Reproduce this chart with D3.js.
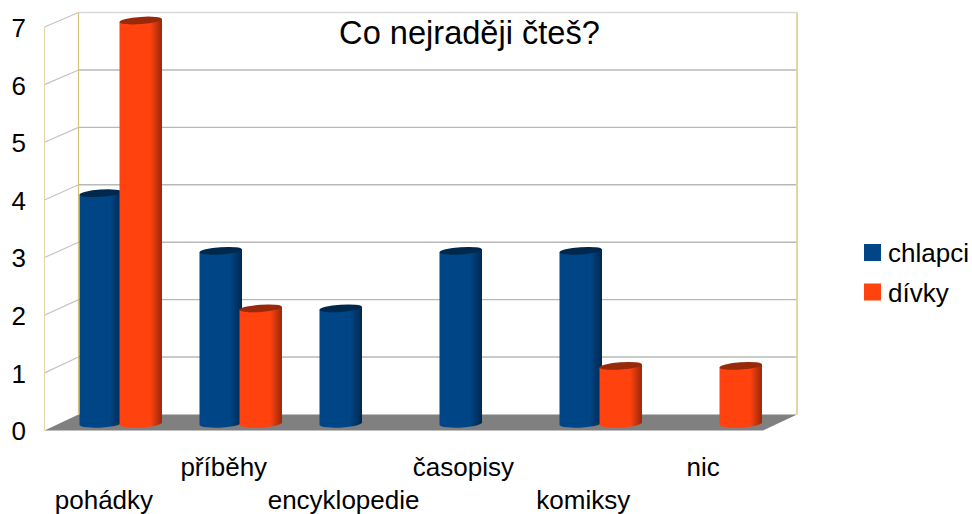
<!DOCTYPE html>
<html>
<head>
<meta charset="utf-8">
<script src="https://cdn.jsdelivr.net/npm/d3@7"></script>
<style>
  html, body { margin: 0; padding: 0; background: #fff; }
  text { font-family: "Liberation Sans", Arial, sans-serif; fill: #000; }
</style>
</head>
<body>
<div id="mydiv"></div>
<script>
const width = 972,
  height = 514;

// Data
const categories = ["pohádky", "příběhy", "encyklopedie", "časopisy", "komiksy", "nic"];
const seriesNames = ["chlapci", "dívky"];
const chlapci = [4, 3, 2, 3, 3, 0];
const divky = [7, 2, 0, 0, 1, 1];
const yTicks = [0, 1, 2, 3, 4, 5, 6, 7];
const seriesValues = [chlapci, divky];
const colors = ["#004586", "#ff420e"];
const darkColors = ["#00274c", "#98290a"];

const svg = d3.select("#mydiv").append("svg")
  .attr("width", width)
  .attr("height", height)
  .style("display", "block");

// Scales: back wall, front edge and bars all sit at a different depth
const yBack = d3.scaleLinear().domain([0, 7]).range([414.5, 12.5]);
const yFront = d3.scaleLinear().domain([0, 7]).range([430.5, 27]);
const yBar = d3.scaleLinear().domain([0, 7]).range([423.5, 20.5]);
const xBar = d3.scaleBand().domain(categories).range([79.5, 799.5]);
const xInner = d3.scaleBand().domain(seriesNames).range([0, 80]);
const xFront = d3.scaleBand().domain(categories).range([44, 763]);

const backLeft = 78.5,
  backRight = 797,
  frontLeft = 44.5,
  frontRight = 763;

// cylinders are a bit wider than their slot, so the second one overlaps the first
const barWidth = xInner.bandwidth() + 2.5;

// Gradients for the cylinders
const defs = svg.append("defs");
seriesNames.forEach((name, i) => {
  const grad = defs.append("linearGradient").attr("id", "grad" + i);
  grad.append("stop").attr("offset", "0%").attr("stop-color", colors[i]);
  grad.append("stop").attr("offset", "72%").attr("stop-color", colors[i]);
  grad.append("stop").attr("offset", "100%").attr("stop-color", darkColors[i]);
});

// Floor
svg.append("polygon")
  .attr("points", [
    [frontLeft, yFront(0)],
    [backLeft, yBack(0)],
    [backRight, yBack(0)],
    [frontRight, yFront(0)]
  ].join(" "))
  .attr("fill", "#808080");

// Grid on the back wall and side wall
svg.append("g").selectAll("line.back").data(yTicks.slice(1)).enter()
  .append("line")
  .attr("class", "back")
  .attr("x1", backLeft).attr("x2", backRight)
  .attr("y1", d => yBack(d)).attr("y2", d => yBack(d))
  .attr("stroke", d => d == 7 ? "#d8d8d8" : "#b8b8b8")
  .attr("stroke-width", 1.4);

svg.append("g").selectAll("line.side").data(yTicks.slice(1)).enter()
  .append("line")
  .attr("class", "side")
  .attr("x1", frontLeft).attr("x2", backLeft)
  .attr("y1", d => yFront(d)).attr("y2", d => yBack(d))
  .attr("stroke", "#c4c4c4")
  .attr("stroke-width", 1.2);

// Wall edges
svg.append("line")
  .attr("x1", backLeft).attr("x2", backLeft)
  .attr("y1", yBack(7)).attr("y2", yBack(0))
  .attr("stroke", "#d6c27a").attr("stroke-width", 1.2);
svg.append("line")
  .attr("x1", backRight).attr("x2", backRight)
  .attr("y1", yBack(7)).attr("y2", yBack(0))
  .attr("stroke", "#e0d29a").attr("stroke-width", 1.8);
svg.append("line")
  .attr("x1", frontLeft).attr("x2", frontLeft)
  .attr("y1", yFront(7)).attr("y2", yFront(0))
  .attr("stroke", "#e6d8a8").attr("stroke-width", 1.2);

// Flat list of bars, series by series inside each category
const bars = [];
categories.forEach((cat, c) => {
  seriesNames.forEach((name, s) => {
    if (seriesValues[s][c] > 0) {
      bars.push({ cat: cat, name: name, s: s, value: seriesValues[s][c] });
    }
  });
});

// Cylinder body: straight sides, tilted ellipse at top and bottom
function cylinderBody(d) {
  const x0 = xBar(d.cat) + xInner(d.name);
  const x1 = x0 + barWidth;
  const top = yBar(d.value);
  const bottom = yBar(0);
  const rx = (x1 - x0) / 2;
  return `M${x0},${top + 1.5} L${x0},${bottom + 1.5}
    A${rx},4 -3 0 0 ${x1},${bottom - 1.5} L${x1},${top - 1.5} Z`;
}

const barG = svg.append("g").selectAll("g").data(bars).enter().append("g");

barG.append("path")
  .attr("d", cylinderBody)
  .attr("fill", d => "url(#grad" + d.s + ")");

barG.append("ellipse")
  .attr("cx", 0).attr("cy", 0)
  .attr("rx", barWidth / 2)
  .attr("ry", 3.6)
  .attr("transform", d => {
    const cx = xBar(d.cat) + xInner(d.name) + barWidth / 2;
    return `translate(${cx},${yBar(d.value)}) rotate(-4)`;
  })
  .attr("fill", d => darkColors[d.s]);

// Y axis labels
const yAxis = d3.axisLeft(yFront).tickValues(yTicks).tickFormat(d3.format("d")).tickSize(0).tickPadding(0);
const yG = svg.append("g")
  .attr("transform", "translate(26,0)")
  .call(yAxis);
yG.select(".domain").remove();
yG.selectAll("text")
  .style("font-family", '"Liberation Sans", Arial, sans-serif')
  .style("font-size", "26px")
  .attr("dy", "0.36em");

// Category labels, staggered in two rows
svg.append("g").selectAll("text").data(categories).enter()
  .append("text")
  .attr("x", d => xFront(d) + xFront.bandwidth() / 2)
  .attr("y", (d, i) => (i % 2 == 0 ? 509 : 476))
  .attr("text-anchor", "middle")
  .style("font-size", "26px")
  .text(d => d);

// Title
svg.append("text")
  .attr("x", 469.5)
  .attr("y", 44)
  .attr("text-anchor", "middle")
  .style("font-size", "32.6px")
  .text("Co nejraději čteš?");

// Legend
const legend = svg.selectAll(".legend").data(seriesNames).enter()
  .append("g")
  .attr("class", "legend")
  .attr("transform", (d, i) => `translate(864,${244 + i * 39.5})`);

legend.append("rect")
  .attr("width", 17)
  .attr("height", 17)
  .attr("fill", (d, i) => colors[i]);

legend.append("text")
  .attr("x", 24)
  .attr("y", 18)
  .style("font-size", "26px")
  .text(d => d);
</script>
</body>
</html>
